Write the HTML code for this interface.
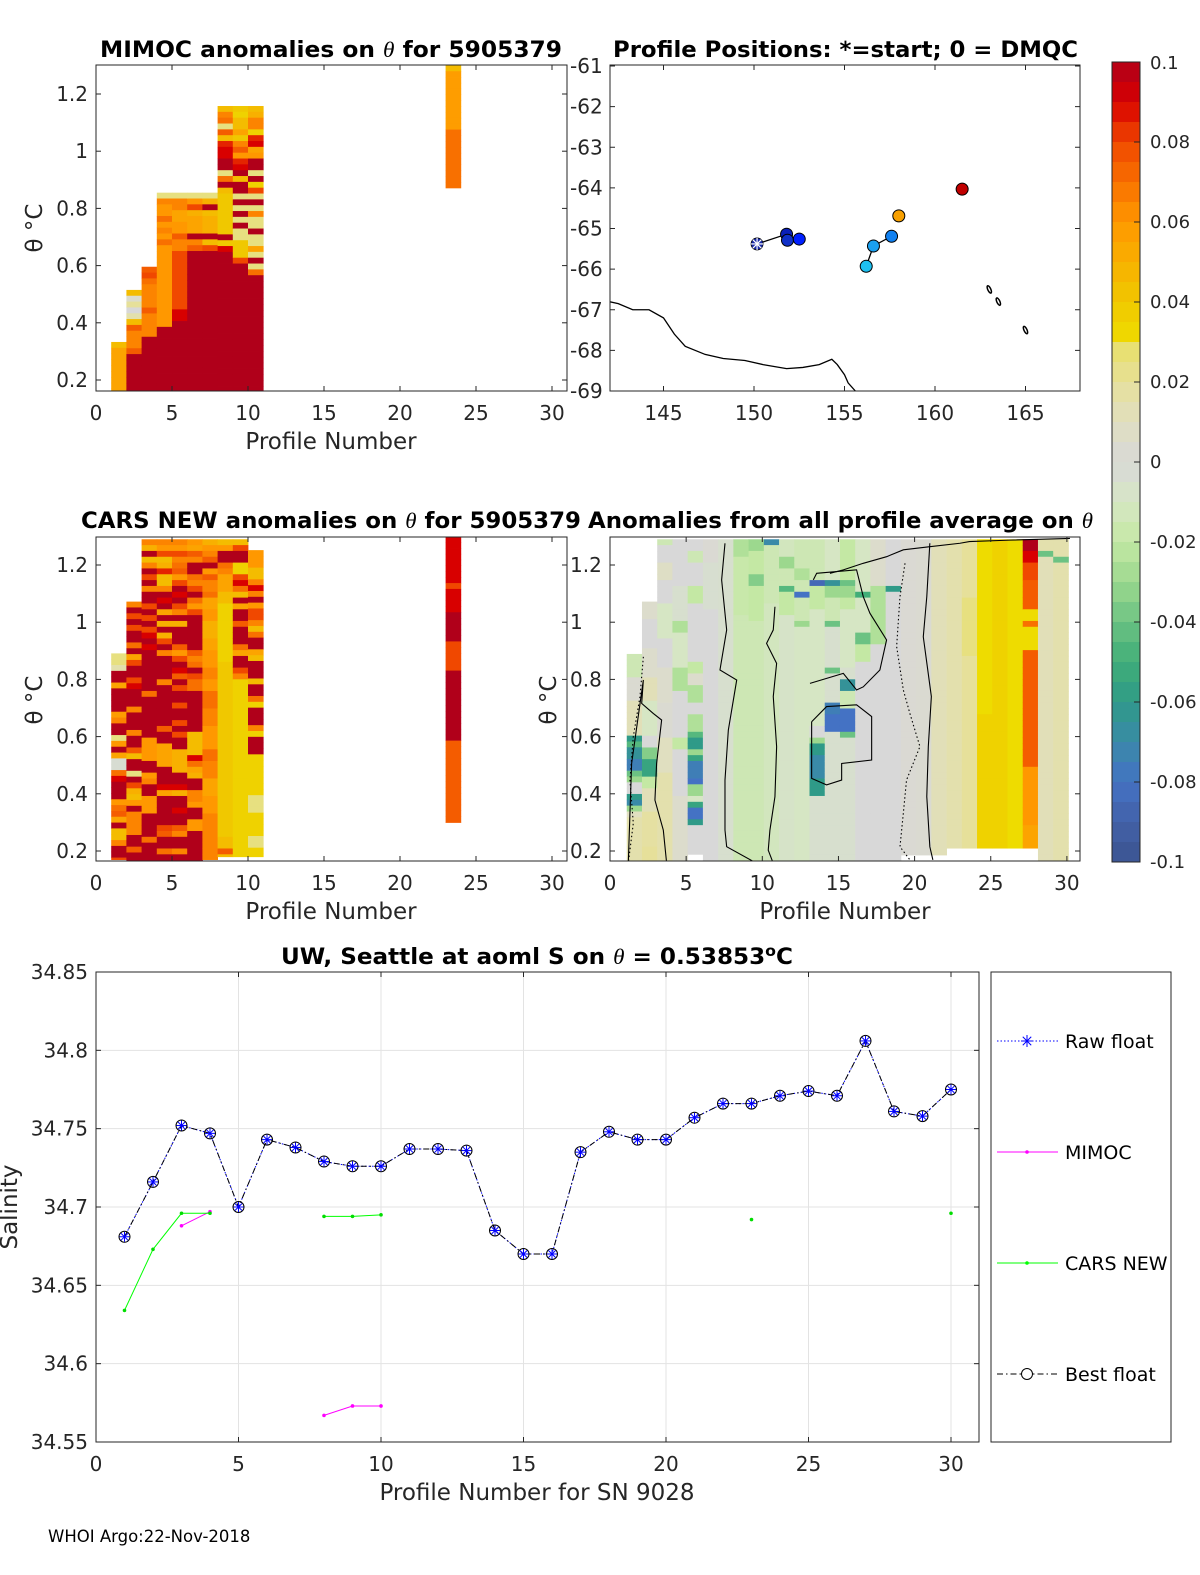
<!DOCTYPE html>
<html><head><meta charset="utf-8"><style>
html,body{margin:0;padding:0;background:#fff;}
svg{display:block;font-family:"DejaVu Sans","Liberation Sans",sans-serif;}
</style></head><body>
<svg id="chart" width="1200" height="1575" viewBox="0 0 1200 1575" xmlns="http://www.w3.org/2000/svg"></svg>
<script>
// ---------- DATA ----------
const cmapVals = [-0.1,-0.09,-0.08,-0.07,-0.06,-0.05,-0.04,-0.03,-0.02,-0.01,0,0.01,0.02,0.028,0.03,0.04,0.05,0.06,0.07,0.08,0.09,0.1];
const cmapCols = ['#3b5490','#4361a8','#4472c4','#3a8aa8','#2f9a88','#40ae78','#6cc283','#9cd88e','#c4e8a4','#d6e6c4','#d8d8d8','#e0dfc0','#e6e09a','#e8e070','#eedc00','#f0c800','#f8b000','#ff9800','#f87000','#f04800','#d80000','#b0001a'];
const cellStep = 0.0204;

const mimocProfiles = [1,2,3,4,5,6,7,8,9,10,23];
const mimocTops = [0.333,0.515,0.596,0.855,0.855,0.855,0.855,1.158,1.158,1.158,1.30];
const mimocRuns = [
 [[0.045,1],[0.055,30]],
 [[0.045,1],[0.005,1],[0.02,1],[0,1],[0.015,1],[0.045,1],[0.075,1],[0.065,3],[0.075,1],[0.1,30]],
 [[0.075,1],[0.08,1],[0.07,1],[0.065,4],[0.075,1],[0.065,4],[0.1,30]],
 [[0.025,1],[0.065,1],[0.06,2],[0.07,1],[0.06,1],[0.065,1],[0.06,1],[0.07,1],[0.06,14],[0.1,30]],
 [[0.025,1],[0.065,2],[0.055,2],[0.06,2],[0.075,1],[0.065,2],[0.08,10],[0.09,2],[0.1,30]],
 [[0.025,1],[0.06,1],[0.08,1],[0.05,1],[0.055,3],[0.1,1],[0.065,1],[0.075,1],[0.1,30]],
 [[0.025,1],[0.05,1],[0.1,1],[0.045,1],[0.05,3],[0.1,1],[0.045,1],[0.08,1],[0.1,30]],
 [[0.045,1],[0.065,1],[0.07,1],[0.025,1],[0.075,1],[0.045,1],[0.085,1],[0.09,2],[0.1,2],[0.025,1],[0.07,1],[0.1,1],[0.045,1],[0.04,7],[0.1,1],[0.04,1],[0.09,1],[0.1,30]],
 [[0.04,1],[0.035,1],[0.045,2],[0.055,1],[0.04,1],[0.065,1],[0.075,1],[0.06,1],[0.085,1],[0.09,1],[0.1,1],[0.045,1],[0.1,2],[0.025,1],[0.1,1],[0.025,1],[0.1,1],[0.025,1],[0.1,1],[0.025,2],[0.04,3],[0.08,1],[0.1,30]],
 [[0.045,1],[0.05,1],[0.065,2],[0.035,1],[0.085,1],[0.09,1],[0.055,1],[0.06,1],[0.1,2],[0.025,1],[0.1,1],[0.035,1],[0.08,1],[0.025,1],[0.1,1],[0.025,1],[0.065,1],[0.025,2],[0.1,1],[0.025,2],[0.055,1],[0.025,1],[0.1,1],[0.025,1],[0.07,1],[0.1,30]],
 [[0.045,1],[0.058,10],[0.07,10]]
];

const carsProfiles = [1,2,3,4,5,6,7,8,9,10,23];
const carsTops = [0.891,1.072,1.29,1.29,1.29,1.29,1.29,1.29,1.29,1.252,1.30];
const carsBottoms = [0.17,0.16,0.16,0.16,0.16,0.16,0.17,0.18,0.18,0.18,0.30];
const carsRuns = [
 [[0.025,2],[0.015,1],[0.1,2],[0.055,1],[0.1,4],[0.058,1],[0.065,1],[0.1,2],[0.025,1],[0.06,1],[0.1,1],[0.055,1],[-0.003,2],[0.07,1],[0.09,1],[0.1,3],[0.06,1],[0.07,1],[0.075,1],[0.055,1],[0.1,1],[0.045,2],[0.065,1],[0.1,2],[0.08,1],[0.065,5]],
 [[0.065,1],[0.1,1],[0.08,1],[0.1,1],[0.08,1],[0.1,2],[0.07,1],[0.1,1],[0.055,1],[0.08,1],[0.1,2],[0.08,1],[0.09,1],[0.1,3],[0.065,1],[0.1,3],[0.065,1],[0.1,2],[0.075,1],[0.045,1],[0.1,2],[0.025,1],[0.1,1],[0.08,1],[0.05,1],[0.045,1],[0.06,1],[0.1,1],[0.065,4],[0.1,2],[0.075,1],[0.1,5]],
 [[0.065,1],[0.05,1],[0.1,1],[0.045,1],[0.065,1],[0.1,1],[0.08,1],[0.1,1],[0.065,1],[0.1,2],[0.08,1],[0.1,1],[0.08,1],[0.1,1],[0.08,1],[0.09,1],[0.1,1],[0.09,1],[0.1,7],[0.07,1],[0.1,7],[0.06,4],[0.1,2],[0.06,1],[0.065,1],[0.1,2],[0.06,3],[0.1,4],[0.07,1],[0.1,10]],
 [[0.065,1],[0.06,1],[0.08,1],[0.045,1],[0.05,1],[0.085,1],[0.045,2],[0.065,1],[0.1,1],[0.09,1],[0.1,1],[0.055,1],[0.1,1],[0.05,1],[0.1,1],[0.05,1],[0.08,1],[0.1,1],[0.065,1],[0.1,4],[0.065,1],[0.1,7],[0.075,1],[0.1,2],[0.055,4],[0.1,3],[0.09,1],[0.055,1],[0.1,5],[0.08,1],[0.075,1],[0.1,2],[0.07,1],[0.1,10]],
 [[0.065,1],[0.06,1],[0.08,1],[0.065,1],[0.07,1],[0.075,1],[0.06,1],[0.08,1],[0.1,1],[0.09,1],[0.1,1],[0.08,1],[0.065,1],[0.1,1],[0.05,1],[0.1,3],[0.075,1],[0.06,1],[0.08,1],[0.1,1],[0.09,1],[0.075,1],[0.1,1],[0.08,1],[0.1,2],[0.08,1],[0.1,2],[0.08,1],[0.1,1],[0.08,1],[0.1,2],[0.05,4],[0.1,2],[0.09,1],[0.05,1],[0.1,2],[0.09,1],[0.1,2],[0.075,1],[0.065,1],[0.1,2],[0.065,1],[0.1,10]],
 [[0.06,1],[0.055,1],[0.075,1],[0.065,1],[0.1,2],[0.07,1],[0.065,1],[0.08,1],[0.1,1],[0.07,1],[0.06,1],[0.08,1],[0.1,6],[0.075,1],[0.065,1],[0.07,1],[0.1,1],[0.08,1],[0.07,2],[0.1,7],[0.045,4],[0.09,1],[0.07,1],[0.055,1],[0.05,1],[0.1,2],[0.065,2],[0.06,1],[0.1,2],[0.06,2],[0.1,10]],
 [[0.05,1],[0.06,1],[0.065,1],[0.075,1],[0.1,1],[0.06,1],[0.075,1],[0.065,2],[0.07,1],[0.055,2],[0.06,2],[0.05,3],[0.055,2],[0.06,3],[0.065,2],[0.06,2],[0.07,3],[0.065,3],[0.06,4],[0.07,2],[0.065,3],[0.055,3],[0.06,3],[0.065,10]],
 [[0.045,1],[0.06,1],[0.1,2],[0.07,1],[0.065,1],[0.055,3],[0.045,2],[0.035,10],[0.04,30],[0.045,2],[0.075,1],[0.045,5]],
 [[0.045,1],[0.08,1],[0.1,2],[0.035,2],[0.08,1],[0.09,1],[0.07,1],[0.045,1],[0.1,1],[0.055,1],[0.1,2],[0.075,1],[0.1,3],[0.07,1],[0.055,1],[0.1,2],[0.08,1],[0.065,1],[0.035,40]],
 [[0.06,3],[0.045,2],[0.065,1],[0.09,1],[0.065,1],[0.1,1],[0.06,1],[0.08,2],[0.065,1],[0.045,1],[0.07,1],[0.1,2],[0.055,1],[0.045,1],[0.1,3],[0.045,1],[0.1,2],[0.07,1],[0.035,1],[0.1,3],[0.065,1],[0.035,1],[0.1,3],[0.035,7],[0.025,3],[0.035,4],[0.025,2],[0.035,5]],
 [[0.09,8],[0.08,1],[0.09,4],[0.1,5],[0.08,5],[0.1,12],[0.075,16]]
];

const anomTops = [0.889,1.072,1.29,1.29,1.29,1.29,1.29,1.29,1.29,1.29,1.29,1.29,1.29,1.29,1.29,1.29,1.29,1.29,1.29,1.29,1.29,1.29,1.29,1.29,1.29,1.29,1.29,1.29,1.29];
const anomBottoms = [0.16,0.16,0.16,0.16,0.16,0.16,0.16,0.16,0.16,0.16,0.16,0.16,0.16,0.16,0.16,0.16,0.16,0.16,0.186,0.186,0.186,0.21,0.21,0.21,0.21,0.21,0.21,0.16,0.16];
const anomRuns = [
 [[-0.015,4],[0.003,4],[0.012,6],[-0.06,1],[-0.045,1],[-0.065,2],[-0.075,2],[-0.04,1],[-0.03,1],[0,2],[-0.06,1],[-0.07,1],[-0.03,1],[0.01,1],[0.015,10]],
 [[0.005,3],[0,5],[0.005,5],[0.012,4],[-0.01,6],[0,2],[-0.035,2],[-0.055,3],[-0.02,2],[0.012,4],[0.018,6],[0.02,10]],
 [[-0.015,1],[0,3],[0.008,3],[0,4],[-0.01,6],[0,5],[0.005,6],[0.003,6],[0.01,6],[0.015,20]],
 [[0,8],[-0.005,6],[-0.025,2],[-0.01,6],[-0.025,4],[0,8],[-0.02,2],[0,8],[0.005,20]],
 [[0,2],[-0.015,2],[0,4],[-0.02,3],[0,10],[-0.02,2],[0.005,2],[-0.025,3],[0,2],[-0.025,3],[-0.045,1],[-0.06,2],[-0.03,1],[-0.055,1],[-0.075,3],[-0.08,1],[-0.03,2],[-0.01,1],[-0.055,1],[-0.08,2],[-0.06,1],[0,5]],
 [[0.002,4],[-0.004,8],[0,60]],
 [[-0.005,60]],
 [[-0.025,3],[-0.018,10],[-0.015,60]],
 [[-0.03,2],[-0.02,4],[-0.035,2],[-0.02,6],[-0.015,60]],
 [[-0.07,1],[-0.015,10],[-0.012,60]],
 [[-0.012,3],[-0.03,2],[-0.015,3],[-0.045,1],[-0.02,4],[-0.008,60]],
 [[-0.015,5],[-0.025,2],[-0.015,2],[-0.08,1],[-0.015,4],[-0.03,1],[-0.01,60]],
 [[-0.015,7],[-0.085,1],[-0.02,4],[-0.01,20],[0,2],[-0.03,1],[-0.06,2],[-0.07,4],[-0.06,3],[-0.005,40]],
 [[-0.01,7],[-0.065,1],[-0.03,2],[-0.015,4],[-0.04,1],[-0.005,7],[-0.04,1],[-0.005,5],[-0.075,2],[-0.08,3],[-0.005,40]],
 [[-0.02,7],[-0.04,1],[-0.03,2],[-0.02,2],[-0.01,10],[-0.005,2],[-0.065,2],[-0.015,3],[-0.08,4],[-0.04,1],[-0.005,40]],
 [[-0.01,9],[-0.05,1],[-0.01,6],[-0.04,2],[-0.02,3],[0,40]],
 [[0.005,8],[-0.025,10],[0,60]],
 [[0,8],[-0.06,1],[0,60]],
 [[0.002,70]],
 [[0.003,70]],
 [[0.012,70]],
 [[0.015,70]],
 [[0.02,10],[0.025,10],[0.02,50]],
 [[0.03,30],[0.035,40]],
 [[0.035,70]],
 [[0.03,70]],
 [[0.1,2],[0.09,2],[0.08,3],[0.075,5],[0.03,2],[0.07,1],[0.03,4],[0.075,20],[0.06,10],[0.055,20]],
 [[0.015,2],[-0.04,1],[0.012,70]],
 [[0.015,3],[-0.04,1],[0.015,70]]
];
const contourP = [
 [7.55,7.33,7.66,7.22,8.32,7.77,7.55,7.55,7.66,9.63],
 [10.83,10.72,10.28,10.94,10.72,10.94,10.83,10.5,10.39,10.72],
 [21.0,20.8,20.57,21.1,20.9,20.8,21.0,21.2],
 [19.37,19.04,18.82,19.26,19.69,20.35,19.47,19.26,19.04,19.69],
 [13.24,14.22,16.19,17.18,17.18,15.21,15.21,14.22,13.24,13.24],
 [1.2,1.42,2.19,2.08,2.84,3.39,3.06,2.95,3.5,3.72],
 [2.19,1.97,1.53,1.31,1.53,1.2],
 [13.13,15.32,16.19,16.63,17.72,18.16,17.07,16.63,16.19,13.57,13.35],
 [14.44,15.32,16.63,18.16,19.26,21.0,22.98,23.6,26.26,30.2]
];
const contourT = [
 [1.276,1.148,0.973,0.833,0.798,0.623,0.448,0.273,0.215,0.157],
 [1.054,0.973,0.926,0.856,0.74,0.565,0.39,0.273,0.203,0.157],
 [1.276,1.089,0.949,0.74,0.565,0.39,0.215,0.169],
 [1.206,1.089,0.915,0.763,0.681,0.565,0.448,0.332,0.215,0.169],
 [0.652,0.705,0.711,0.67,0.518,0.506,0.448,0.431,0.454,0.652],
 [0.157,0.506,0.798,0.716,0.681,0.658,0.506,0.378,0.273,0.157],
 [0.879,0.74,0.6,0.448,0.297,0.157],
 [0.786,0.821,0.763,0.774,0.833,0.938,1.031,1.089,1.183,1.171,1.148],
 [1.171,1.183,1.206,1.229,1.253,1.264,1.276,1.282,1.287,1.293]
];
const contourDotted = [false,false,false,true,false,false,true,false,false];

const posLon = [150.17,151.8,151.85,152.5,156.2,156.6,157.6,158.0,161.5];
const posLat = [-65.38,-65.14,-65.29,-65.26,-65.93,-65.43,-65.19,-64.69,-64.03];
const posColor = ['#1a2aa8','#0a1fb8','#1030c8','#0020ff','#1ec0f0','#1aa0f0','#1080f0','#f8a000','#c00000'];
const trackBreak = [false,false,false,false,true,false,false,true,true];
const coastLon = [142,142.5,143.3,144.2,145,145.6,146.2,147.3,148.3,149.5,150.5,151.8,152.7,153.6,154.3,154.6,155.0,155.2,155.6];
const coastLat = [-66.8,-66.85,-67.0,-67.0,-67.2,-67.6,-67.9,-68.1,-68.2,-68.25,-68.35,-68.45,-68.42,-68.35,-68.22,-68.35,-68.6,-68.8,-69.0];

const profiles = [1,2,3,4,5,6,7,8,9,10,11,12,13,14,15,16,17,18,19,20,21,22,23,24,25,26,27,28,29,30];
const bestFloat = [34.681,34.716,34.752,34.747,34.700,34.743,34.738,34.729,34.726,34.726,34.737,34.737,34.736,34.685,34.670,34.670,34.735,34.748,34.743,34.743,34.757,34.766,34.766,34.771,34.774,34.771,34.806,34.761,34.758,34.775];
const mimocS = [null,null,34.688,34.697,null,null,null,34.567,34.573,34.573,null,null,null,null,null,null,null,null,null,null,null,null,null,null,null,null,null,null,null,null];
const carsS = [34.634,34.673,34.696,34.696,null,null,null,34.694,34.694,34.695,null,null,null,null,null,null,null,null,null,null,null,null,34.692,null,null,null,null,null,null,34.696];
const salTicks = [34.55,34.6,34.65,34.7,34.75,34.8,34.85];
const salTickLabels = ['34.55','34.6','34.65','34.7','34.75','34.8','34.85'];
const profTicks = [0,5,10,15,20,25,30];
const thetaTicks = [0.2,0.4,0.6,0.8,1,1.2];
const thetaTickLabels = ['0.2','0.4','0.6','0.8','1','1.2'];
const latTicks = [-61,-62,-63,-64,-65,-66,-67,-68,-69];
const lonTicks = [145,150,155,160,165];
const cbTicks = [0.1,0.08,0.06,0.04,0.02,0,-0.02,-0.04,-0.06,-0.08,-0.1];
const cbTickLabels = ['0.1','0.08','0.06','0.04','0.02','0','-0.02','-0.04','-0.06','-0.08','-0.1'];

// ---------- HELPERS ----------
const NS='http://www.w3.org/2000/svg';
const svg=document.getElementById('chart');
function mk(tag,attrs,parent){const e=document.createElementNS(NS,tag);for(const k in attrs)e.setAttribute(k,attrs[k]);(parent||svg).appendChild(e);return e;}
function hex2rgb(h){return [parseInt(h.substr(1,2),16),parseInt(h.substr(3,2),16),parseInt(h.substr(5,2),16)];}
function cmap(v){
  if(v<=cmapVals[0])return cmapCols[0];
  for(let i=1;i<cmapVals.length;i++){if(v<=cmapVals[i]){const f=(v-cmapVals[i-1])/(cmapVals[i]-cmapVals[i-1]);const a=hex2rgb(cmapCols[i-1]),b=hex2rgb(cmapCols[i]);return 'rgb('+a.map((x,j)=>Math.round(x+(b[j]-x)*f)).join(',')+')';}}
  return cmapCols[cmapCols.length-1];
}
function text(str,x,y,opt,parent){const t=mk('text',Object.assign({x:x,y:y,'font-size':20,fill:'#262626'},opt||{}),parent);t.textContent=str;return t;}
function title(html,cx,y,len,name){
  const t=mk('text',{x:cx,y:y,'text-anchor':'middle','font-weight':'bold','font-size':22,fill:'#000',textLength:len,lengthAdjust:'spacingAndGlyphs'});
  
  
  t.innerHTML=html;return t;
}
const TH='<tspan font-family="Liberation Serif, serif" font-style="italic" font-weight="normal">θ</tspan>';
let clipId=0;
function clipFor(x0,y0,x1,y1){const id='c'+(clipId++);const cp=mk('clipPath',{id:id});mk('rect',{x:x0,y:y0,width:x1-x0,height:y1-y0},cp);return 'url(#'+id+')';}

function heatColumns(g,profs,tops,bottoms,runs,xs,ys,offset){
  for(let c=0;c<runs.length;c++){
    let t=tops[c];const bot=bottoms?bottoms[c]:-1;
    const col=mk('g',{},g);
    
    
    for(const r of runs[c]){
      for(let k=0;k<r[1];k++){
        let t1=t-cellStep; if(t<=bot)break; if(t1<bot)t1=bot;
        const xa=xs(profs[c]+offset),xb=xs(profs[c]+offset+1);
        const rc=mk('rect',{x:xa,y:ys(t),width:xb-xa+0.4,height:ys(t1)-ys(t)+0.4,fill:cmap(r[0])},col);
        
        
        t=t1;
      }
    }
  }
}
function axesBox(x0,y0,x1,y1,name){const r=mk('rect',{x:x0,y:y0,width:x1-x0,height:y1-y0,fill:'none',stroke:'#262626','stroke-width':1});}
function xTicks(vals,labels,xs,y0,y1,ly,name){
  const g=mk('g',{});
  vals.forEach((v,i)=>{const x=xs(v);mk('line',{x1:x,x2:x,y1:y1,y2:y1-5,stroke:'#262626'},g);mk('line',{x1:x,x2:x,y1:y0,y2:y0+5,stroke:'#262626'},g);text(labels[i],x,ly,{'text-anchor':'middle'},g);});
}
function yTicks(vals,labels,ys,x0,x1,lx,anchor,name){
  const g=mk('g',{});
  vals.forEach((v,i)=>{const y=ys(v);mk('line',{x1:x0,x2:x0+5,y1:y,y2:y,stroke:'#262626'},g);mk('line',{x1:x1,x2:x1-5,y1:y,y2:y,stroke:'#262626'},g);text(labels[i],lx,y+7,{'text-anchor':anchor},g);});
}

// ---------- PANEL 1: MIMOC ----------
{
 const xs=p=>96+p*15.2, ys=t=>380-(t-0.2)*286;
 const g=mk('g',{'clip-path':clipFor(96,65,567,391)});
 
 heatColumns(g,mimocProfiles,mimocTops,null,mimocRuns,xs,ys,0);
 axesBox(96,65,567,391,'mimoc-axes');
 xTicks(profTicks,profTicks.map(String),xs,65,391,420,'mimoc-x-ticks');
 yTicks(thetaTicks,thetaTickLabels,ys,96,567,88,'end','mimoc-y-ticks');
 title('MIMOC anomalies on '+TH+'  for 5905379',331,57,462,'mimoc-title');
 const xl=text('Profile Number',331,449,{'text-anchor':'middle','font-size':23});
 const yl=text('θ °C',0,0,{'text-anchor':'middle','font-size':23,transform:'translate(42,228) rotate(-90)'});
}
// ---------- PANEL 2: MAP ----------
{
 const xs=l=>754+(l-150)*18.1, ys=la=>66+(-61-la)*40.625;
 const g=mk('g',{'clip-path':clipFor(610,65,1080,391)});
 
 const cp=mk('polyline',{points:coastLon.map((l,i)=>xs(l)+','+ys(coastLat[i])).join(' '),fill:'none',stroke:'#000','stroke-width':1.3},g);
 
 [[163.0,-66.5],[163.5,-66.8],[165,-67.5]].forEach(p=>{const e=mk('ellipse',{cx:xs(p[0]),cy:ys(p[1]),rx:1.5,ry:4,fill:'none',stroke:'#000','stroke-width':1.5,transform:'rotate(-25 '+xs(p[0])+' '+ys(p[1])+')'},g);});
 for(let i=1;i<posLon.length;i++){if(trackBreak[i])continue;const ln=mk('line',{x1:xs(posLon[i-1]),y1:ys(posLat[i-1]),x2:xs(posLon[i]),y2:ys(posLat[i]),stroke:'#000','stroke-width':1.3},g);}
 posLon.forEach((l,i)=>{const x=xs(l),y=ys(posLat[i]);
   if(i===0){const s=mk('g',{},g);
     mk('circle',{cx:x,cy:y,r:6,fill:posColor[0],stroke:'#000','stroke-width':0.8},s);
     for(let a=0;a<4;a++){const an=a*Math.PI/4;mk('line',{x1:x-6*Math.cos(an),y1:y-6*Math.sin(an),x2:x+6*Math.cos(an),y2:y+6*Math.sin(an),stroke:'#fff','stroke-width':1.2},s);}
   } else {const c=mk('circle',{cx:x,cy:y,r:6,fill:posColor[i],stroke:'#000','stroke-width':1},g);}
 });
 axesBox(610,65,1080,391,'map-axes');
 xTicks(lonTicks,lonTicks.map(String),xs,65,391,420,'map-x-ticks');
 yTicks(latTicks,latTicks.map(String),ys,610,1080,570,'start','map-y-ticks');
 title('Profile Positions: *=start; 0 = DMQC',845.5,57,465,'map-title');
}
// ---------- PANEL 3: CARS ----------
{
 const xs=p=>96+p*15.2, ys=t=>851-(t-0.2)*286;
 const g=mk('g',{'clip-path':clipFor(96,537,567,861)});
 
 heatColumns(g,carsProfiles,carsTops,carsBottoms,carsRuns,xs,ys,0);
 axesBox(96,537,567,861,'cars-axes');
 xTicks(profTicks,profTicks.map(String),xs,537,861,890,'cars-x-ticks');
 yTicks(thetaTicks,thetaTickLabels,ys,96,567,88,'end','cars-y-ticks');
 title('CARS NEW anomalies on '+TH+' for 5905379',331,528,500,'cars-title');
 const xl=text('Profile Number',331,919,{'text-anchor':'middle','font-size':23});
 const yl=text('θ °C',0,0,{'text-anchor':'middle','font-size':23,transform:'translate(42,700) rotate(-90)'});
}
// ---------- PANEL 4: anomalies ----------
{
 const xs=p=>610+p*15.23, ys=t=>851-(t-0.2)*286;
 const g=mk('g',{'clip-path':clipFor(610,537,1080,861)});
 
 const profs=anomRuns.map((r,i)=>i+1);
 heatColumns(g,profs,anomTops,anomBottoms,anomRuns,xs,ys,0.1);
 contourP.forEach((ps,i)=>{const pl=mk('polyline',{points:ps.map((p,j)=>xs(p)+','+ys(contourT[i][j])).join(' '),fill:'none',stroke:'#000','stroke-width':1.1,'stroke-dasharray':contourDotted[i]?'1.5 2.5':'none'},g);});
 axesBox(610,537,1080,861,'anomaly-axes');
 xTicks(profTicks,profTicks.map(String),xs,537,861,890,'anomaly-x-ticks');
 yTicks(thetaTicks,thetaTickLabels,ys,610,1080,570,'start','anomaly-y-ticks');
 title('Anomalies from all profile average on '+TH,840.5,528,505,'anomaly-title');
 const xl=text('Profile Number',845,919,{'text-anchor':'middle','font-size':23});
 const yl=text('θ °C',0,0,{'text-anchor':'middle','font-size':23,transform:'translate(556,700) rotate(-90)'});
}
// ---------- COLORBAR ----------
{
 const y0=62,y1=862,ys=v=>y0+(0.1-v)/0.2*(y1-y0);
 const g=mk('g',{});
 for(let i=0;i<40;i++){const v=0.1-(i+0.5)*0.005;mk('rect',{x:1112,y:y0+i*20,width:28,height:20.5,fill:cmap(v)},g);}
 mk('rect',{x:1112,y:y0,width:28,height:y1-y0,fill:'none',stroke:'#262626'},g);
 cbTicks.forEach((v,i)=>{const y=ys(v);mk('line',{x1:1134,x2:1140,y1:y,y2:y,stroke:'#262626'},g);text(cbTickLabels[i],1150,y+(i===0?7:6),{'font-size':18},g);});
}
// ---------- BOTTOM SALINITY CHART ----------
{
 const xs=p=>96+p*28.5, ys=s=>1442-(s-34.55)*1566.7;
 const grid=mk('g',{});
 profTicks.forEach(v=>mk('line',{x1:xs(v),x2:xs(v),y1:972,y2:1442,stroke:'#e3e3e3'},grid));
 salTicks.forEach(v=>mk('line',{x1:96,x2:979,y1:ys(v),y2:ys(v),stroke:'#e3e3e3'},grid));
 axesBox(96,972,979,1442,'salinity-axes');
 xTicks(profTicks,profTicks.map(String),xs,972,1442,1471,'salinity-x-ticks');
 yTicks(salTicks,salTickLabels,ys,96,979,88,'end','salinity-y-ticks');
 function series(vals,color,dash,name){
   const g=mk('g',{});
   let seg=[];const segs=[];
   vals.forEach((v,i)=>{if(v===null){if(seg.length)segs.push(seg);seg=[];}else seg.push(xs(profiles[i])+','+ys(v));});
   if(seg.length)segs.push(seg);
   segs.forEach(s=>{if(s.length>1)mk('polyline',{points:s.join(' '),fill:'none',stroke:color,'stroke-width':1,'stroke-dasharray':dash},g);});
   return g;
 }
 series(bestFloat,'#0000ff','1.5 2','raw-float-line');
 const best=series(bestFloat,'#000','6 3 1.5 3','best-float-line');
 bestFloat.forEach((v,i)=>{const x=xs(profiles[i]),y=ys(v);const m=mk('g',{},best);
   mk('circle',{cx:x,cy:y,r:5.5,fill:'none',stroke:'#000','stroke-width':1},m);
   for(let a=0;a<4;a++){const an=a*Math.PI/4;mk('line',{x1:x-5*Math.cos(an),y1:y-5*Math.sin(an),x2:x+5*Math.cos(an),y2:y+5*Math.sin(an),stroke:'#0000ff','stroke-width':1},m);}
 });
 const mg=series(mimocS,'#ff00ff','none','mimoc-line');
 mimocS.forEach((v,i)=>{if(v!==null){const d=mk('circle',{cx:xs(profiles[i]),cy:ys(v),r:1.8,fill:'#ff00ff'},mg);}});
 const cg=series(carsS,'#00ff00','none','cars-line');
 carsS.forEach((v,i)=>{if(v!==null){const d=mk('circle',{cx:xs(profiles[i]),cy:ys(v),r:1.8,fill:'#00dd00'},cg);}});
 title('UW, Seattle at aoml S on '+TH+' = 0.53853<tspan dy="-8" font-size="15">o</tspan><tspan dy="8">C</tspan>',537,964,512,'salinity-title');
 const xl=text('Profile Number for SN 9028',537,1500,{'text-anchor':'middle','font-size':23});
 const yl=text('Salinity',0,0,{'text-anchor':'middle','font-size':23,transform:'translate(17,1207) rotate(-90)'});
 const lg=mk('g',{});
 mk('rect',{x:991,y:972,width:180,height:470,fill:'#fff',stroke:'#262626'},lg);
 const le=[['Raw float',1041,'#0000ff','1.5 2'],['MIMOC',1152,'#ff00ff','none'],['CARS NEW',1263,'#00ff00','none'],['Best float',1374,'#000','6 3 1.5 3']];
 le.forEach((e,i)=>{const g=mk('g',{},lg);
   mk('line',{x1:997,x2:1058,y1:e[1],y2:e[1],stroke:e[2],'stroke-dasharray':e[3]},g);
   const cx=1027;
   if(i===0){for(let a=0;a<4;a++){const an=a*Math.PI/4;mk('line',{x1:cx-6*Math.cos(an),y1:e[1]-6*Math.sin(an),x2:cx+6*Math.cos(an),y2:e[1]+6*Math.sin(an),stroke:'#0000ff'},g);}}
   else if(i===3){mk('circle',{cx:cx,cy:e[1],r:5.5,fill:'#fff',stroke:'#000'},g);}
   else mk('circle',{cx:cx,cy:e[1],r:1.8,fill:e[2]},g);
   text(e[0],1065,e[1]+7,{'font-size':19,fill:'#000'},g);
 });
}
const ft=text('WHOI Argo:22-Nov-2018',48,1542,{'font-size':16.5,fill:'#000'});


</script>
</body></html>
